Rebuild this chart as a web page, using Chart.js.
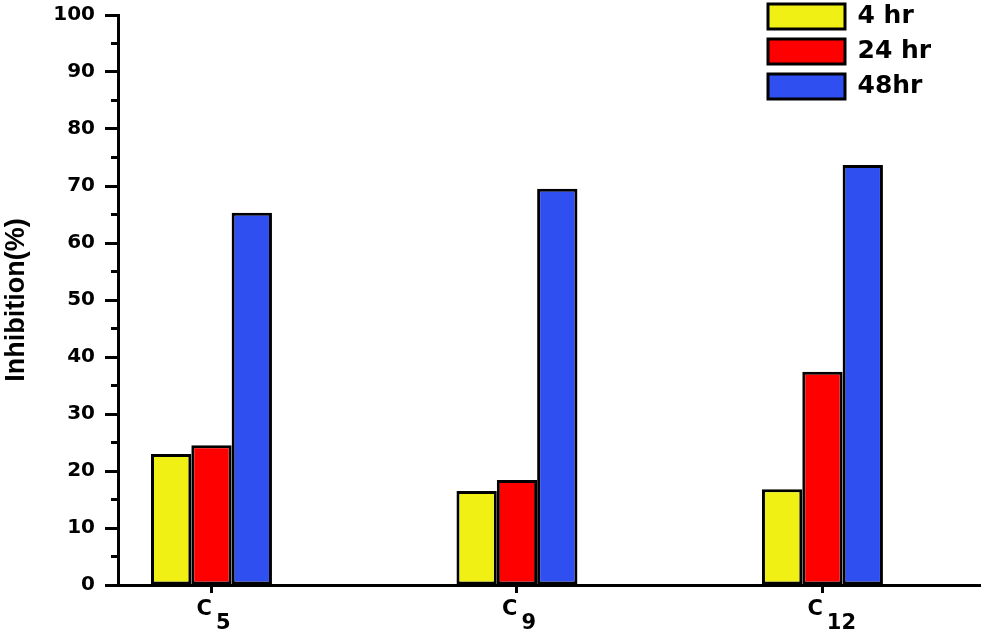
<!DOCTYPE html>
<html>
<head>
<meta charset="utf-8">
<script src="https://cdn.jsdelivr.net/npm/chart.js@4/dist/chart.umd.min.js"></script>
<style>
  html, body { margin: 0; padding: 0; background: #fff; }
  #wrap { width: 981px; height: 633px; }
</style>
</head>
<body>
<div id="wrap"><canvas id="inhibitionChart" width="981" height="633"></canvas></div>
<script>
// categories (letter + subscript) and values
const categories = ['C5', 'C9', 'C12'];
const seriesNames = ['4 hr', '24 hr', '48hr'];
const values4h = [23.0, 16.5, 16.8];
const values24h = [24.5, 18.4, 37.4];
const values48h = [65.3, 69.5, 73.7];
const yTicks = [0, 10, 20, 30, 40, 50, 60, 70, 80, 90, 100];

const colors = ['#f0f014', '#ff0000', '#2f4ff0'];

function toPoints(arr) {
    return arr.map((v, i) => ({ x: i, y: v }));
}

// small minor ticks on the y axis (every 5)
const minorTicks = {
    id: 'minorTicks',
    afterDraw(chart) {
        const { ctx, chartArea, scales } = chart;
        ctx.save();
        ctx.strokeStyle = '#000';
        ctx.lineWidth = 3;
        for (let v = 5; v < 100; v += 10) {
            const y = scales.y.getPixelForValue(v);
            ctx.beginPath();
            ctx.moveTo(chartArea.left - 7, y);
            ctx.lineTo(chartArea.left, y);
            ctx.stroke();
        }
        ctx.restore();
    }
};

// category labels with subscript numbers (C5 -> C + lowered 5)
const subLabels = {
    id: 'subLabels',
    afterDraw(chart) {
        const { ctx, chartArea, scales } = chart;
        ctx.save();
        ctx.fillStyle = '#000';
        ctx.textBaseline = 'alphabetic';
        ctx.textAlign = 'left';
        ctx.font = 'bold 21px "DejaVu Sans"';
        categories.forEach((label, i) => {
            const base = label.charAt(0);
            const sub = label.slice(1);
            const px = scales.x.getPixelForValue(i);
            const x0 = px - 15;
            const wBase = ctx.measureText(base).width;
            ctx.fillText(base, x0, chartArea.bottom + 30);
            ctx.fillText(sub, x0 + wBase + 4, chartArea.bottom + 44);
        });
        ctx.restore();
    }
};

// move the legend (placed in chart area) to the top-right corner
const legendPlace = {
    id: 'legendPlace',
    afterLayout(chart) {
        const lg = chart.legend;
        if (!lg) return;
        lg.left = 758;
        lg.top = -6;
    }
};

new Chart(document.getElementById('inhibitionChart'), {
    type: 'bar',
    data: {
        datasets: [
            { label: seriesNames[0], data: toPoints(values4h), backgroundColor: colors[0] },
            { label: seriesNames[1], data: toPoints(values24h), backgroundColor: colors[1] },
            { label: seriesNames[2], data: toPoints(values48h), backgroundColor: colors[2] }
        ]
    },
    options: {
        responsive: false,
        animation: false,
        layout: { padding: { top: 15, right: 0, left: 0, bottom: 0 } },
        datasets: {
            bar: {
                borderColor: '#000',
                borderWidth: 3,
                borderSkipped: false,
                barPercentage: 1,
                categoryPercentage: 0.396
            }
        },
        plugins: {
            legend: {
                position: 'chartArea',
                align: 'start',
                labels: {
                    boxWidth: 77,
                    boxHeight: 25,
                    padding: 10,
                    color: '#000',
                    font: { family: 'DejaVu Sans', weight: 'bold', size: 25 }
                }
            },
            tooltip: { enabled: false }
        },
        scales: {
            x: {
                type: 'linear',
                min: -0.306,
                max: 2.519,
                offset: false,
                afterBuildTicks(scale) {
                    scale.ticks = categories.map((c, i) => ({ value: i }));
                },
                afterFit(scale) {
                    scale.height = 48;
                    scale.paddingLeft = 0;
                    scale.paddingRight = 0;
                },
                grid: {
                    offset: false,
                    drawOnChartArea: false,
                    drawTicks: true,
                    tickLength: 8,
                    tickWidth: 3,
                    tickColor: '#000'
                },
                border: { color: '#000', width: 3 },
                ticks: { display: false }
            },
            y: {
                min: 0,
                max: 100,
                afterBuildTicks(scale) {
                    scale.ticks = yTicks.map(v => ({ value: v }));
                },
                afterFit(scale) {
                    scale.width = 118;
                    scale.paddingTop = 0;
                    scale.paddingBottom = 0;
                },
                grid: {
                    drawOnChartArea: false,
                    drawTicks: true,
                    tickLength: 13,
                    tickWidth: 3,
                    tickColor: '#000'
                },
                border: { color: '#000', width: 3 },
                ticks: {
                    color: '#000',
                    padding: 10,
                    font: { family: 'DejaVu Sans', weight: 'bold', size: 20 }
                },
                title: {
                    display: true,
                    text: 'Inhibition(%)',
                    color: '#000',
                    padding: 0,
                    font: { family: 'Liberation Sans', weight: 'bold', size: 27 }
                }
            }
        }
    },
    plugins: [minorTicks, subLabels, legendPlace]
});
</script>
</body>
</html>
